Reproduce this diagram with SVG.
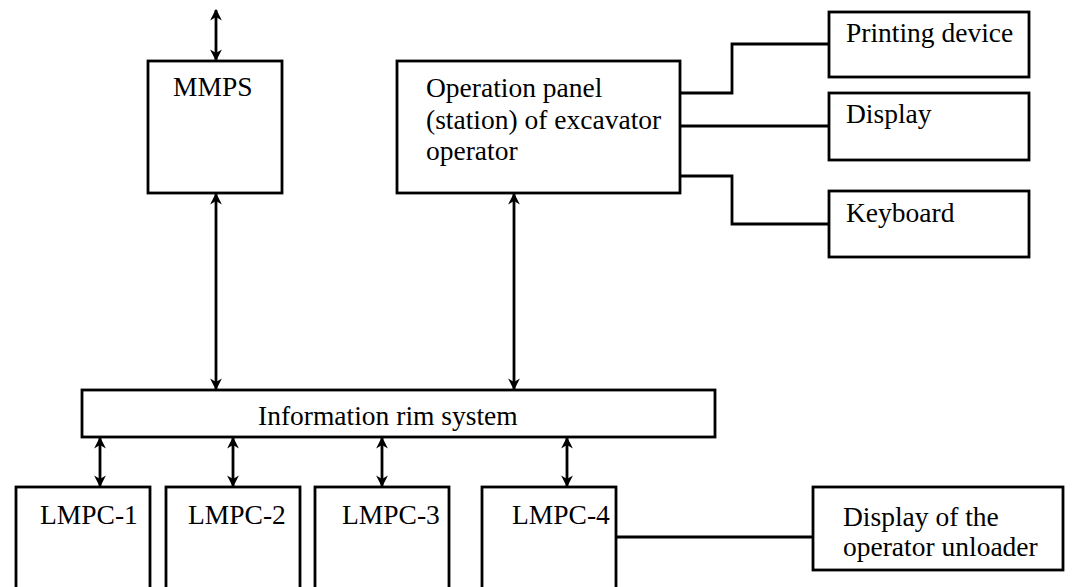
<svg xmlns="http://www.w3.org/2000/svg" width="1077" height="587" viewBox="0 0 1077 587">
<defs>
<style>
.box{fill:#fff;stroke:#000;stroke-width:2.8}
.ln{fill:none;stroke:#000;stroke-width:2.8}
.t{font-family:"Liberation Serif","Times New Roman",serif;font-size:27.5px;fill:#000}
</style>
<marker id="ah" viewBox="0 0 10 10" refX="9" refY="5" markerWidth="4.2" markerHeight="4.2" orient="auto-start-reverse" markerUnits="strokeWidth">
<path d="M0,0 L10,5 L0,10 L3,5 Z" fill="#000"/>
</marker>
</defs>
<rect width="1077" height="587" fill="#fff"/>
<g id="connectors">
<line class="ln" x1="216" y1="10" x2="216" y2="60" marker-start="url(#ah)" marker-end="url(#ah)"/>
<line class="ln" x1="216" y1="194" x2="216" y2="389" marker-start="url(#ah)" marker-end="url(#ah)"/>
<line class="ln" x1="514" y1="194" x2="514" y2="389" marker-start="url(#ah)" marker-end="url(#ah)"/>
<line class="ln" x1="100" y1="438" x2="100" y2="486" marker-start="url(#ah)" marker-end="url(#ah)"/>
<line class="ln" x1="233" y1="438" x2="233" y2="486" marker-start="url(#ah)" marker-end="url(#ah)"/>
<line class="ln" x1="382" y1="438" x2="382" y2="486" marker-start="url(#ah)" marker-end="url(#ah)"/>
<line class="ln" x1="567" y1="438" x2="567" y2="486" marker-start="url(#ah)" marker-end="url(#ah)"/>
<polyline class="ln" points="680,93 732,93 732,44 829,44"/>
<line class="ln" x1="680" y1="126" x2="829" y2="126"/>
<polyline class="ln" points="680,176 732,176 732,224 829,224"/>
<line class="ln" x1="616" y1="537" x2="813" y2="537"/>
</g>
<g id="mmps">
<rect class="box" x="148" y="61" width="134" height="132"/>
<text class="t" x="173" y="96">MMPS</text>
</g>
<g id="panel">
<rect class="box" x="397" y="61" width="283" height="132"/>
<text class="t" x="426" y="97">Operation panel</text>
<text class="t" x="426" y="129">(station) of excavator</text>
<text class="t" x="426" y="160">operator</text>
</g>
<g id="printing">
<rect class="box" x="829" y="12" width="200" height="65"/>
<text class="t" x="846" y="42">Printing device</text>
</g>
<g id="display">
<rect class="box" x="829" y="93" width="200" height="67"/>
<text class="t" x="846" y="123">Display</text>
</g>
<g id="keyboard">
<rect class="box" x="829" y="191" width="200" height="66"/>
<text class="t" x="846" y="222">Keyboard</text>
</g>
<g id="rim">
<rect class="box" x="82" y="390" width="633" height="47"/>
<text class="t" x="258" y="425">Information rim system</text>
</g>
<g id="lmpc1">
<rect class="box" x="16" y="487" width="134" height="104"/>
<text class="t" x="40" y="524">LMPC-1</text>
</g>
<g id="lmpc2">
<rect class="box" x="166" y="487" width="134" height="104"/>
<text class="t" x="188" y="524">LMPC-2</text>
</g>
<g id="lmpc3">
<rect class="box" x="315" y="487" width="134" height="104"/>
<text class="t" x="342" y="524">LMPC-3</text>
</g>
<g id="lmpc4">
<rect class="box" x="482" y="487" width="134" height="104"/>
<text class="t" x="512" y="524">LMPC-4</text>
</g>
<g id="unloader">
<rect class="box" x="813" y="487" width="250" height="83"/>
<text class="t" x="843" y="526">Display of the</text>
<text class="t" x="843" y="556">operator unloader</text>
</g>
</svg>
